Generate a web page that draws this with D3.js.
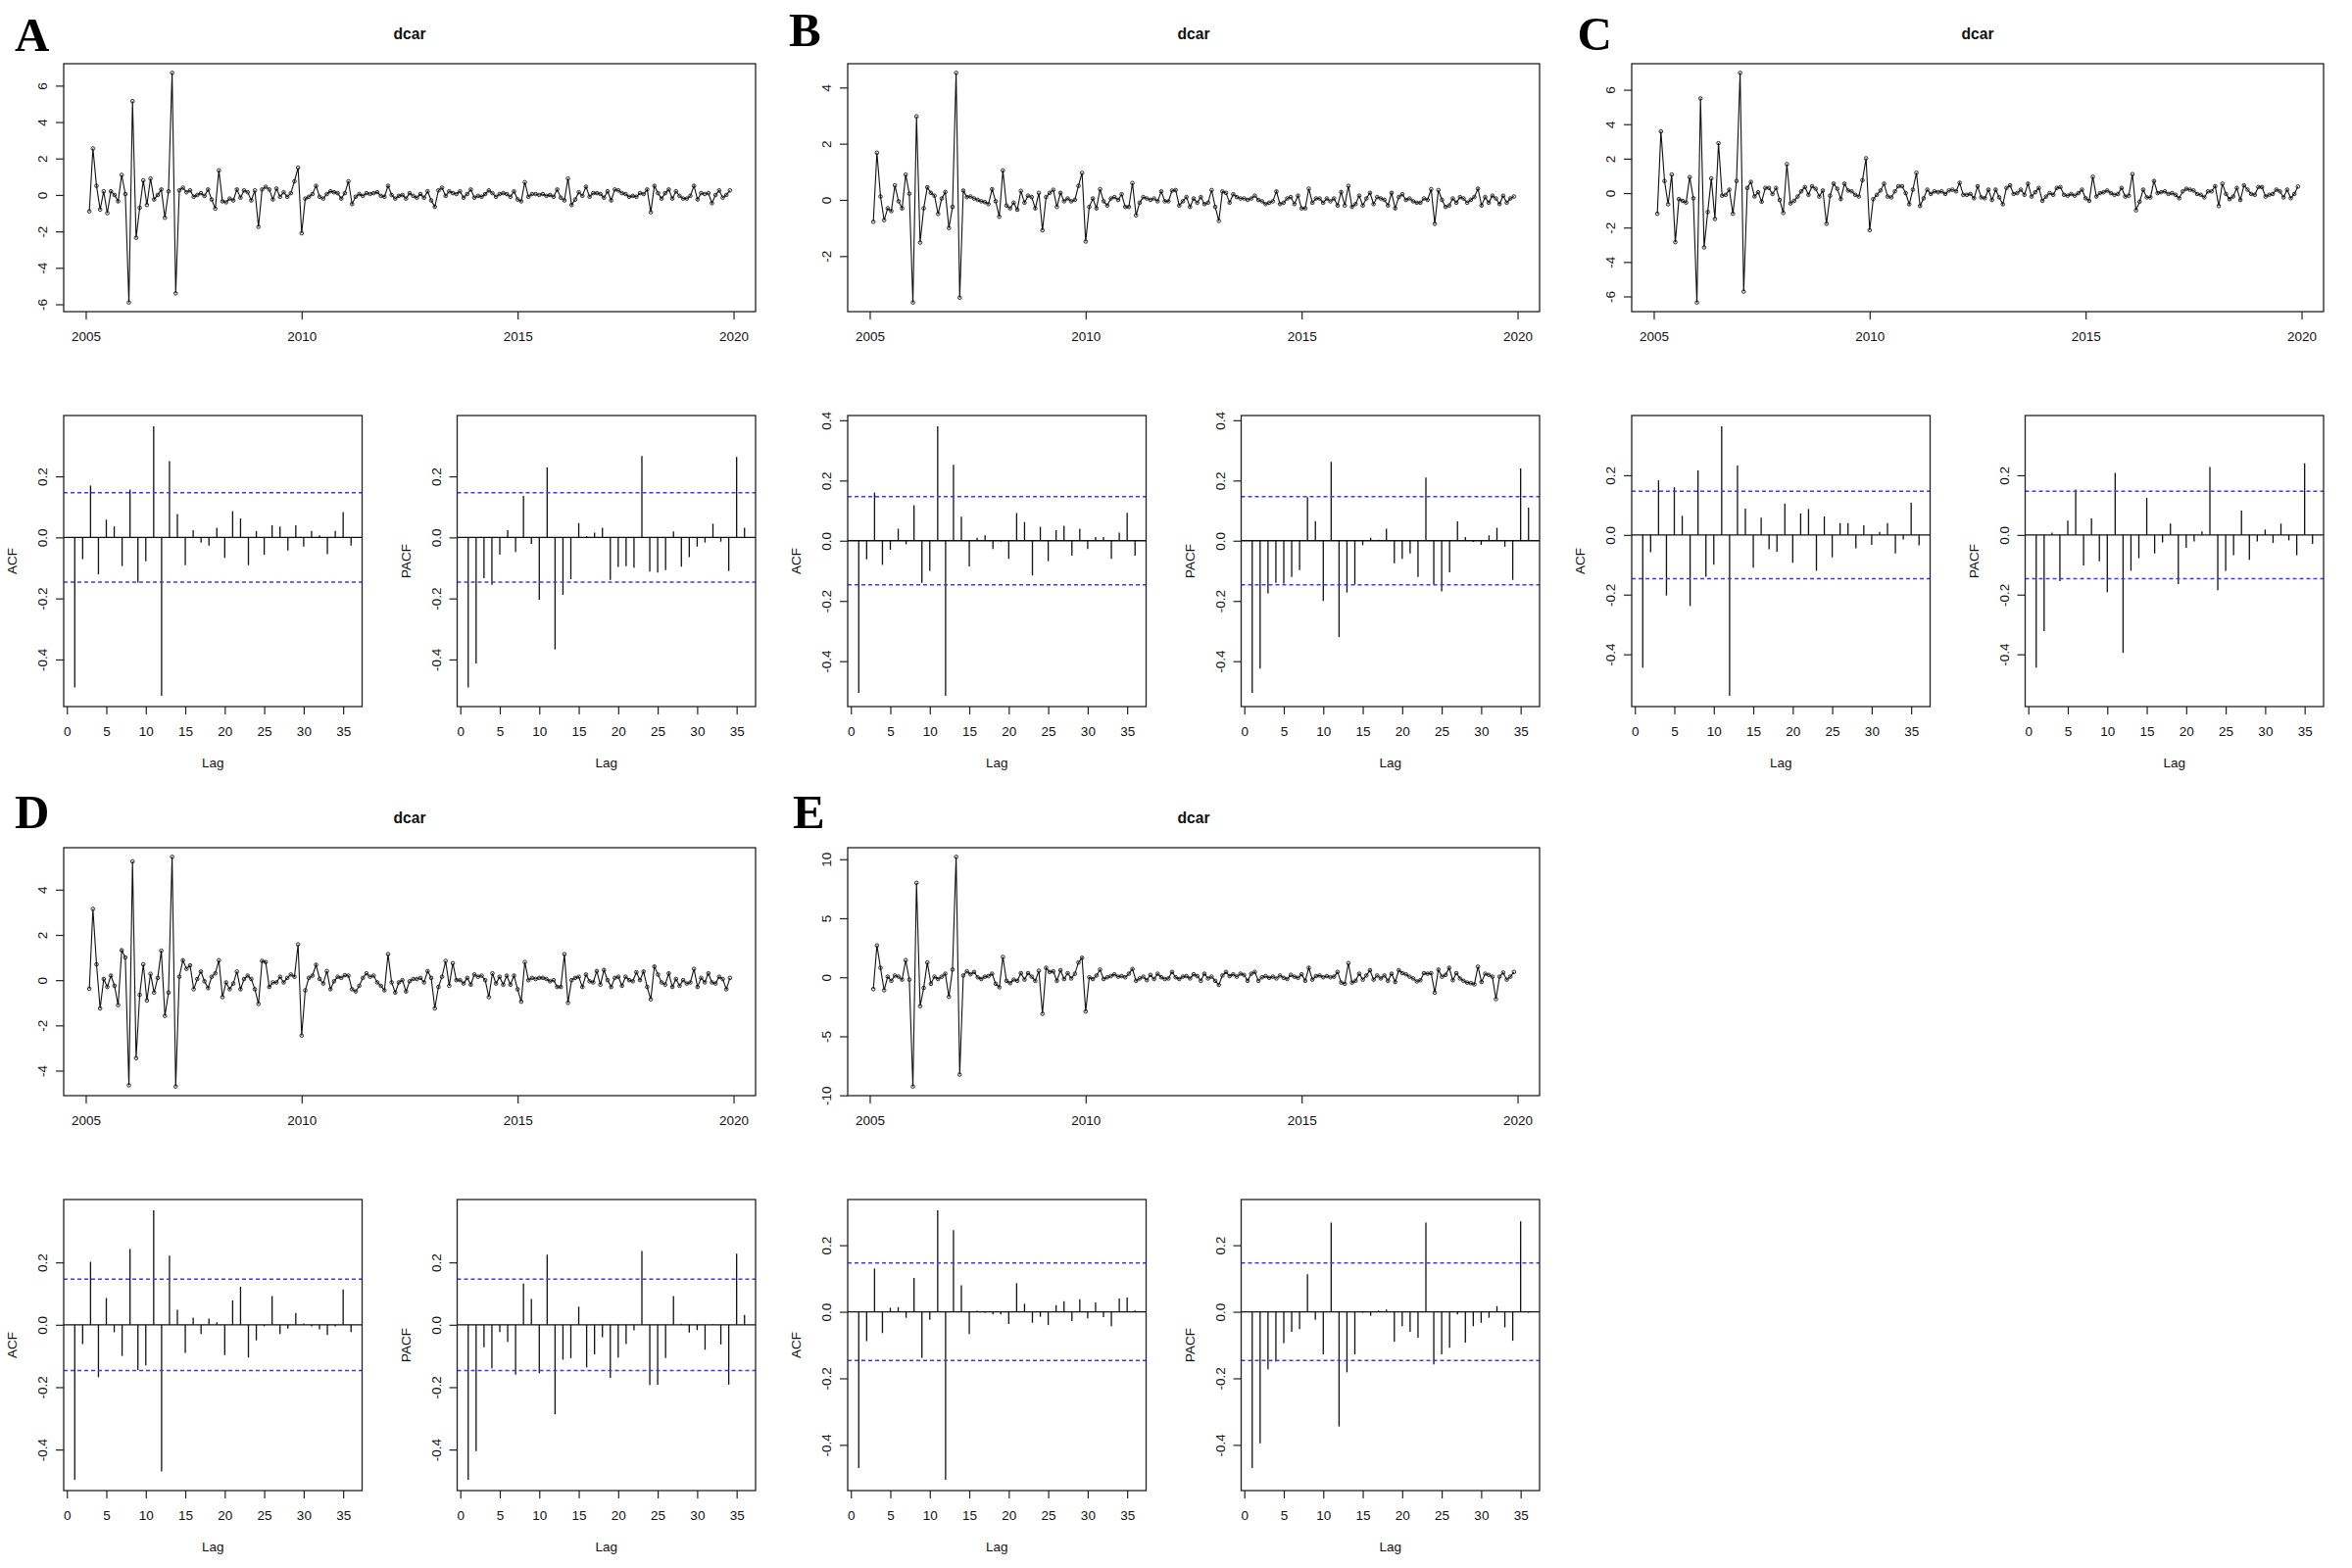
<!DOCTYPE html>
<html><head><meta charset="utf-8">
<script src="https://cdn.jsdelivr.net/npm/d3@7"></script>
<style>body{margin:0;background:#fff}svg{display:block}</style>
</head><body>
<svg id="chart" width="2400" height="1600"></svg>
<script>
// ---------------- DATA ----------------
const panelLabels = ["A","B","C","D","E"];
const panelTitles = ["dcar","dcar","dcar","dcar","dcar"];
const tsStart = 2005 + 1/12;   // first observation: Feb 2005
const tsFrequency = 12;        // monthly
const yearTicks = [2005, 2010, 2015, 2020];
const lagTicks = [0, 5, 10, 15, 20, 25, 30, 35];

const seriesA = [
-0.9,2.55,0.5,-0.8,0.2,-1.0,0.2,0.0,-0.35,1.1,
0.05,-5.9,5.15,-2.35,-0.7,0.8,-0.55,0.9,-0.25,0.0,
0.3,-1.25,0.2,6.7,-5.4,0.25,0.4,0.15,0.25,-0.1,
0.0,0.1,-0.05,0.3,-0.25,-0.75,1.35,-0.35,-0.4,-0.2,
-0.3,0.3,-0.15,0.25,0.15,-0.3,0.25,-1.75,0.3,0.45,
0.3,-0.25,0.35,-0.1,0.15,-0.1,0.1,0.75,1.5,-2.1,
-0.2,-0.1,0.05,0.5,-0.1,-0.2,0.05,0.2,0.15,0.1,
-0.2,0.1,0.75,-0.5,-0.1,0.05,-0.05,0.1,0.05,0.1,
0.15,-0.05,-0.1,0.5,0.0,-0.2,-0.05,0.0,-0.2,0.1,
-0.05,-0.15,0.05,-0.15,0.2,-0.3,-0.65,0.25,0.4,-0.05,
0.2,0.1,0.05,0.2,-0.15,0.05,0.3,-0.15,-0.05,-0.1,
0.05,0.25,0.1,-0.1,0.05,0.1,0.05,-0.1,0.2,
-0.25,-0.35,0.7,-0.1,0.05,0.05,0.0,0.05,-0.05,0.0,
-0.1,0.3,-0.15,-0.3,0.9,-0.55,-0.25,0.15,-0.05,0.45,
-0.1,0.1,0.1,0.05,-0.15,0.2,-0.3,0.3,0.25,0.1,
0.05,-0.1,-0.05,-0.1,0.1,0.05,0.3,-0.95,0.5,0.1,
-0.2,0.1,0.3,-0.2,0.2,-0.05,-0.2,-0.2,-0.05,0.5,
-0.25,0.1,0.05,0.1,-0.45,0.0,0.25,-0.15,0.0,0.25];

const seriesB = [
-0.78,1.68,0.12,-0.72,-0.3,-0.4,0.52,-0.05,-0.3,0.9,
0.22,-3.65,2.97,-1.52,-0.3,0.45,0.25,0.15,-0.5,0.05,
0.28,-1.0,-0.25,4.52,-3.48,0.33,0.1,0.12,0.05,0.0,
-0.05,-0.08,-0.15,0.38,-0.05,-0.6,1.05,-0.2,-0.3,-0.1,
-0.35,0.32,-0.1,0.15,0.1,-0.3,0.25,-1.08,0.1,0.25,
0.36,-0.25,0.25,-0.05,0.05,-0.05,0.0,0.5,0.96,-1.48,
-0.25,0.05,-0.3,0.38,-0.05,-0.2,0.05,0.1,0.0,0.2,
-0.25,-0.25,0.6,-0.55,-0.1,0.1,0.05,0.0,0.05,-0.05,
0.3,-0.05,-0.05,0.33,0.35,-0.2,-0.05,0.1,-0.25,0.05,
-0.1,0.1,-0.15,-0.1,0.35,-0.25,-0.75,0.3,0.25,-0.1,
0.2,0.1,0.05,0.05,0.0,0.05,0.15,0.0,-0.05,-0.15,
-0.1,-0.05,0.3,-0.15,-0.1,0.05,0.1,-0.15,0.15,-0.3,
-0.3,0.4,-0.1,0.05,0.05,-0.1,0.05,-0.05,0.05,-0.2,
0.28,-0.2,0.5,-0.25,-0.15,0.15,-0.2,0.05,0.25,-0.15,
0.1,0.05,0.0,-0.2,0.25,-0.3,0.1,0.2,0.0,0.05,
-0.05,-0.1,-0.1,0.05,0.0,0.38,-0.85,0.35,0.0,-0.25,
-0.2,0.05,-0.1,0.1,0.05,-0.1,0.0,0.1,0.4,-0.2,
0.1,-0.1,0.15,0.05,-0.15,0.15,-0.1,0.05,0.12];

const seriesC = [
-1.2,3.58,0.7,-0.65,1.08,-2.85,-0.35,-0.45,-0.55,0.93,
-0.3,-6.35,5.5,-3.15,-1.1,0.85,-1.5,2.9,-0.15,-0.1,
0.2,-1.2,0.7,6.98,-5.72,0.3,0.65,-0.2,0.05,-0.5,
0.3,0.3,-0.05,0.3,-0.4,-1.15,1.68,-0.6,-0.45,-0.2,
0.1,0.35,-0.1,0.4,0.25,-0.2,0.15,-1.78,-0.15,0.55,
0.25,-0.35,0.55,0.15,0.1,-0.1,-0.2,0.75,2.02,-2.15,
-0.35,-0.1,0.15,0.55,-0.2,-0.25,0.1,0.4,0.4,0.0,
-0.65,0.2,1.18,-0.75,-0.3,0.2,-0.05,0.1,0.05,0.1,
-0.05,0.15,0.2,0.1,0.6,-0.1,-0.1,-0.05,-0.3,0.4,
-0.25,-0.3,0.2,-0.4,0.2,-0.25,-0.65,0.3,0.45,-0.05,
0.0,0.2,-0.1,0.55,-0.2,0.05,0.3,-0.45,-0.2,0.0,
-0.1,0.3,0.35,-0.1,-0.15,-0.05,-0.15,0.0,0.2,-0.3,
-0.45,0.95,-0.2,0.0,0.05,0.15,0.0,-0.1,-0.05,0.3,
-0.2,-0.15,1.1,-1.0,-0.5,0.2,-0.25,-0.25,0.7,0.0,
0.05,0.1,-0.05,0.0,-0.1,-0.3,0.1,0.25,0.2,0.15,
-0.05,-0.1,-0.25,0.1,0.1,0.4,-0.75,0.55,-0.05,-0.35,
-0.2,0.3,-0.4,0.45,0.2,-0.05,-0.1,0.35,0.35,-0.2,
-0.1,-0.05,0.2,0.1,-0.25,0.2,-0.3,-0.05,0.38];

const seriesD = [
-0.38,3.15,0.7,-1.25,0.05,-0.3,0.2,-0.25,-1.1,1.32,
1.0,-4.65,5.25,-3.45,-0.65,0.7,-0.9,0.28,-0.55,0.1,
1.3,-1.58,-0.55,5.45,-4.7,0.15,0.88,0.5,0.65,-0.4,
0.05,0.38,-0.05,-0.35,0.15,0.3,0.88,-0.75,-0.1,-0.4,
-0.15,0.38,-0.4,0.05,0.2,0.05,-0.4,-1.05,0.85,0.8,
-0.3,-0.1,-0.1,0.15,-0.1,0.1,0.25,0.15,1.58,-2.45,
-0.45,0.1,0.2,0.68,0.05,-0.15,0.4,-0.4,-0.05,0.15,
0.1,0.22,0.2,-0.4,-0.5,-0.25,0.1,0.3,0.15,0.2,
-0.1,-0.25,-0.45,1.15,-0.1,-0.55,-0.1,0.0,-0.5,-0.05,
0.05,0.05,0.1,-0.1,0.4,0.1,-1.25,-0.3,0.15,0.85,
-0.25,0.75,0.0,0.0,-0.15,0.1,-0.2,0.25,0.15,0.2,
0.0,-0.75,0.3,-0.15,0.15,-0.2,0.2,-0.2,0.2,-0.4,
-0.95,0.8,0.0,0.1,0.05,0.1,0.1,0.05,-0.05,0.0,
-0.3,-0.3,1.15,-1.0,0.0,0.1,0.15,-0.3,0.25,-0.05,
-0.1,0.4,-0.2,0.45,0.0,-0.3,0.1,0.15,-0.25,0.15,
0.0,-0.05,0.35,0.0,0.38,-0.3,-0.85,0.6,0.25,-0.1,
-0.2,0.3,-0.3,0.05,-0.25,0.0,-0.15,-0.1,0.5,-0.3,
0.1,-0.1,0.3,-0.1,-0.15,0.15,0.05,-0.4,0.1];

const seriesE = [
-1.0,2.7,0.8,-1.1,0.05,-0.3,0.15,0.05,-0.2,1.45,
-0.2,-9.25,8.0,-2.45,-0.9,1.25,-0.55,0.05,-0.15,0.05,
0.3,-1.65,0.65,10.2,-8.25,0.15,0.5,0.25,0.45,0.0,
-0.15,0.05,0.1,0.3,-0.55,-0.85,1.72,-0.3,-0.5,-0.2,
-0.3,0.35,-0.2,0.35,0.05,-0.3,0.55,-3.1,0.8,0.45,
0.5,-0.3,0.6,-0.15,0.35,-0.1,0.3,1.25,1.65,-2.9,
0.0,-0.15,0.15,0.65,-0.15,0.0,0.1,0.25,0.05,0.1,
0.0,0.3,0.7,-0.3,-0.1,0.05,-0.25,0.2,-0.15,0.3,
0.0,-0.15,-0.1,0.45,0.0,-0.15,0.05,0.1,-0.1,0.25,
0.1,-0.3,0.3,-0.1,0.05,-0.3,-0.65,0.15,0.45,0.1,
0.25,0.05,0.3,0.2,-0.3,0.3,0.45,-0.3,0.0,0.1,
-0.05,0.05,-0.1,0.15,-0.05,-0.15,0.2,0.05,-0.05,0.25,
-0.3,0.8,-0.2,0.1,0.15,0.0,0.1,0.0,0.05,0.45,
-0.45,-0.55,1.2,-0.45,-0.3,0.3,-0.2,0.15,0.6,-0.2,
0.15,-0.1,0.15,-0.3,0.3,-0.4,0.6,0.35,0.25,0.05,
-0.1,-0.35,-0.25,0.35,0.3,0.35,-1.3,0.65,0.05,0.2,
0.8,-0.25,0.35,-0.1,-0.3,-0.45,-0.5,-0.6,0.9,-0.4,
0.3,0.2,0.05,-1.85,0.05,0.4,-0.2,0.05,0.45];

const acfA  = [-0.492,-0.071,0.170,-0.121,0.058,0.036,-0.094,0.157,-0.148,-0.078,0.364,-0.519,0.250,0.077,-0.091,0.024,-0.017,-0.027,0.032,-0.067,0.086,0.062,-0.091,0.021,-0.057,0.040,0.036,-0.043,0.040,-0.030,0.021,0.007,-0.055,0.021,0.083,-0.027];
const pacfA = [-0.492,-0.413,-0.134,-0.155,-0.057,0.024,-0.048,0.136,-0.021,-0.204,0.229,-0.367,-0.188,-0.137,0.047,0.004,0.016,0.032,-0.139,-0.097,-0.094,-0.099,0.267,-0.112,-0.115,-0.107,0.020,-0.096,-0.065,-0.030,-0.017,0.045,-0.014,-0.110,0.264,0.032];
const acfB  = [-0.505,-0.062,0.160,-0.080,-0.030,0.040,-0.012,0.118,-0.140,-0.100,0.380,-0.515,0.252,0.080,-0.085,0.010,0.018,-0.028,-0.003,-0.060,0.092,0.062,-0.115,0.046,-0.068,0.035,0.050,-0.050,0.040,-0.028,0.012,0.012,-0.060,0.027,0.093,-0.050];
const pacfB = [-0.505,-0.425,-0.175,-0.140,-0.142,-0.120,-0.098,0.145,0.065,-0.200,0.262,-0.320,-0.172,-0.145,-0.015,0.010,0.003,0.040,-0.075,-0.060,-0.042,-0.120,0.210,-0.145,-0.168,-0.105,0.064,0.012,-0.004,-0.014,0.018,0.043,-0.020,-0.130,0.240,0.110];
const acfC  = [-0.445,-0.058,0.183,-0.203,0.160,0.064,-0.238,0.216,-0.140,-0.100,0.364,-0.539,0.233,0.088,-0.110,0.058,-0.048,-0.056,0.105,-0.093,0.072,0.087,-0.120,0.062,-0.075,0.040,0.040,-0.045,0.032,-0.033,0.010,0.040,-0.062,-0.015,0.108,-0.035];
const pacfC = [-0.445,-0.322,0.008,-0.155,0.048,0.152,-0.102,0.055,-0.088,-0.192,0.208,-0.395,-0.120,-0.078,0.124,-0.062,-0.025,0.038,-0.165,-0.043,-0.022,0.012,0.228,-0.185,-0.120,-0.068,0.082,-0.083,-0.022,0.018,-0.027,0.038,-0.018,-0.068,0.240,-0.030];
const acfD  = [-0.497,-0.062,0.202,-0.168,0.086,-0.024,-0.100,0.243,-0.145,-0.130,0.367,-0.470,0.222,0.048,-0.090,0.023,-0.030,0.020,0.008,-0.097,0.078,0.122,-0.105,-0.050,-0.005,0.092,-0.030,-0.012,0.038,0.004,-0.005,-0.015,-0.033,-0.005,0.113,-0.023];
const pacfD = [-0.497,-0.405,-0.072,-0.140,-0.023,-0.055,-0.160,0.132,0.083,-0.155,0.225,-0.287,-0.112,-0.107,0.058,-0.137,-0.095,-0.040,-0.170,-0.105,-0.062,-0.018,0.237,-0.193,-0.192,-0.107,0.092,0.003,-0.025,-0.017,-0.080,0.002,-0.063,-0.192,0.228,0.032];
const acfE  = [-0.470,-0.088,0.130,-0.064,0.012,0.014,-0.018,0.102,-0.138,-0.024,0.305,-0.505,0.245,0.080,-0.067,0.003,-0.003,-0.008,-0.008,-0.037,0.086,0.024,-0.033,-0.015,-0.040,0.020,0.032,-0.028,0.038,-0.020,0.028,-0.016,-0.043,0.040,0.043,0.004];
const pacfE = [-0.470,-0.395,-0.173,-0.150,-0.094,-0.060,-0.052,0.113,-0.024,-0.128,0.268,-0.345,-0.182,-0.128,-0.003,-0.012,0.004,0.007,-0.090,-0.043,-0.060,-0.078,0.268,-0.158,-0.128,-0.108,-0.008,-0.093,-0.043,-0.033,-0.018,0.017,-0.047,-0.087,0.272,-0.003];

const tsTicksA = [-6,-4,-2,0,2,4,6];
const tsTicksB = [-2,0,2,4];
const tsTicksC = [-6,-4,-2,0,2,4,6];
const tsTicksD = [-4,-2,0,2,4];
const tsTicksE = [-10,-5,0,5,10];
const acfTicksA = [-0.4,-0.2,0,0.2];
const acfTicksB = [-0.4,-0.2,0,0.2,0.4];
const acfTicksC = [-0.4,-0.2,0,0.2];
const acfTicksD = [-0.4,-0.2,0,0.2];
const acfTicksE = [-0.4,-0.2,0,0.2];

// ---------------- LAYOUT / STYLE ----------------
const panels = [
  {label:panelLabels[0], title:panelTitles[0], series:seriesA, acf:acfA, pacf:pacfA, tsTicks:tsTicksA, acfTicks:acfTicksA, col:0, row:0, lx:15, ly:52},
  {label:panelLabels[1], title:panelTitles[1], series:seriesB, acf:acfB, pacf:pacfB, tsTicks:tsTicksB, acfTicks:acfTicksB, col:1, row:0, lx:5,  ly:47},
  {label:panelLabels[2], title:panelTitles[2], series:seriesC, acf:acfC, pacf:pacfC, tsTicks:tsTicksC, acfTicks:acfTicksC, col:2, row:0, lx:9.5, ly:50.5},
  {label:panelLabels[3], title:panelTitles[3], series:seriesD, acf:acfD, pacf:pacfD, tsTicks:tsTicksD, acfTicks:acfTicksD, col:0, row:1, lx:15, ly:45},
  {label:panelLabels[4], title:panelTitles[4], series:seriesE, acf:acfE, pacf:pacfE, tsTicks:tsTicksE, acfTicks:acfTicksE, col:1, row:1, lx:9,  ly:45}
];
const PW = 800, PH = 800;
const TS = {x0:65, x1:771, y0:65, y1:318};
const AC = {x0:65, x1:369.5, y0:424, y1:721};
const PA = {x0:466.5, x1:771, y0:424, y1:721};
const FONT = "'Liberation Sans', Arial, Helvetica, sans-serif";
const FS = 13.5, TICK = 8;
const INK = "#111";

function pad(lo, hi){ const r = hi - lo; return [lo - 0.04*r, hi + 0.04*r]; }

const svg = d3.select("#chart");
svg.append("rect").attr("width",2400).attr("height",1600).attr("fill","#fff");

function styleAxis(g){
  g.select(".domain").remove();
  g.selectAll(".tick line").attr("stroke", "#222").attr("stroke-width", 1.2);
  g.selectAll(".tick text").attr("fill", INK).attr("font-family", FONT).attr("font-size", FS);
}
function bottomAxis(g, x, y1, ticks, fmt){
  const a = g.append("g").attr("transform", `translate(0,${y1})`)
    .call(d3.axisBottom(x).tickValues(ticks).tickSize(TICK).tickFormat(fmt));
  styleAxis(a);
  a.selectAll(".tick text").attr("y", 30).attr("dy", null);
}
function leftAxis(g, y, x0, ticks, fmt){
  const a = g.append("g").attr("transform", `translate(${x0},0)`)
    .call(d3.axisLeft(y).tickValues(ticks).tickSize(TICK).tickFormat(fmt));
  styleAxis(a);
  a.selectAll(".tick text").attr("x", null).attr("dy", null)
    .attr("text-anchor","middle").attr("transform","translate(-17,0) rotate(-90)");
}
function box(g, b){
  g.append("rect").attr("x",b.x0).attr("y",b.y0).attr("width",b.x1-b.x0).attr("height",b.y1-b.y0)
    .attr("fill","none").attr("stroke","#222").attr("stroke-width",1.3);
}

function drawTs(g, p){
  const n = p.series.length;
  const tEnd = tsStart + (n-1)/tsFrequency;
  const x = d3.scaleLinear().domain(pad(tsStart, tEnd)).range([TS.x0, TS.x1]);
  const ext = d3.extent(p.series);
  const y = d3.scaleLinear().domain(pad(ext[0], ext[1])).range([TS.y1, TS.y0]);
  const t = (d,i) => tsStart + i/tsFrequency;
  g.append("path").datum(p.series)
    .attr("d", d3.line().x((d,i)=>x(t(d,i))).y(d=>y(d)))
    .attr("fill","none").attr("stroke","#111").attr("stroke-width",1.1);
  g.append("g").selectAll("circle").data(p.series).join("circle")
    .attr("cx",(d,i)=>x(t(d,i))).attr("cy",d=>y(d)).attr("r",1.8)
    .attr("fill","none").attr("stroke","#111").attr("stroke-width",0.9);
  box(g, TS);
  bottomAxis(g, x, TS.y1, yearTicks, d=>String(d));
  leftAxis(g, y, TS.x0, p.tsTicks, d=>String(d));
}

function drawCorr(g, vals, b, yDomain, ticks, ci, ylab){
  const x = d3.scaleLinear().domain(pad(1, vals.length)).range([b.x0, b.x1]);
  const y = d3.scaleLinear().domain(yDomain).range([b.y1, b.y0]);
  g.append("g").selectAll("line").data(vals).join("line")
    .attr("x1",(d,i)=>x(i+1)).attr("x2",(d,i)=>x(i+1))
    .attr("y1",y(0)).attr("y2",d=>y(d))
    .attr("stroke","#111").attr("stroke-width",1.3);
  g.append("line").attr("x1",b.x0).attr("x2",b.x1).attr("y1",y(0)).attr("y2",y(0))
    .attr("stroke","#111").attr("stroke-width",1.3);
  [ci, -ci].forEach(c => {
    g.append("line").attr("x1",b.x0).attr("x2",b.x1).attr("y1",y(c)).attr("y2",y(c))
      .attr("stroke","#3a3aff").attr("stroke-width",1.6).attr("stroke-dasharray","4,3");
  });
  box(g, b);
  bottomAxis(g, x, b.y1, lagTicks, d=>String(d));
  leftAxis(g, y, b.x0, ticks, d=>d.toFixed(1));
  g.append("text").attr("x",(b.x0+b.x1)/2).attr("y",b.y1+62).attr("text-anchor","middle")
    .attr("font-family",FONT).attr("font-size",FS).attr("fill",INK).text("Lag");
  g.append("text").attr("transform",`translate(${b.x0-48},${(b.y0+b.y1)/2}) rotate(-90)`)
    .attr("text-anchor","middle").attr("font-family",FONT).attr("font-size",FS).attr("fill",INK).text(ylab);
}

panels.forEach(p => {
  const g = svg.append("g").attr("transform", `translate(${p.col*PW},${p.row*PH})`);
  g.append("text").attr("x",p.lx).attr("y",p.ly).attr("font-family","'Liberation Serif','Times New Roman',serif")
    .attr("font-weight","bold").attr("font-size",49).attr("fill","#000").text(p.label);
  g.append("text").attr("x",(TS.x0+TS.x1)/2).attr("y",39.5).attr("text-anchor","middle")
    .attr("font-family",FONT).attr("font-weight","bold").attr("font-size",15.6).attr("fill",INK).text(p.title);
  drawTs(g, p);
  const ci = 1.96/Math.sqrt(p.series.length);
  const lo = Math.min(d3.min(p.acf), d3.min(p.pacf), -ci);
  const hi = Math.max(d3.max(p.acf), d3.max(p.pacf), ci);
  const yDom = pad(lo, hi);
  drawCorr(g, p.acf, AC, yDom, p.acfTicks, ci, "ACF");
  drawCorr(g, p.pacf, PA, yDom, p.acfTicks, ci, "PACF");
});
</script>
</body></html>
